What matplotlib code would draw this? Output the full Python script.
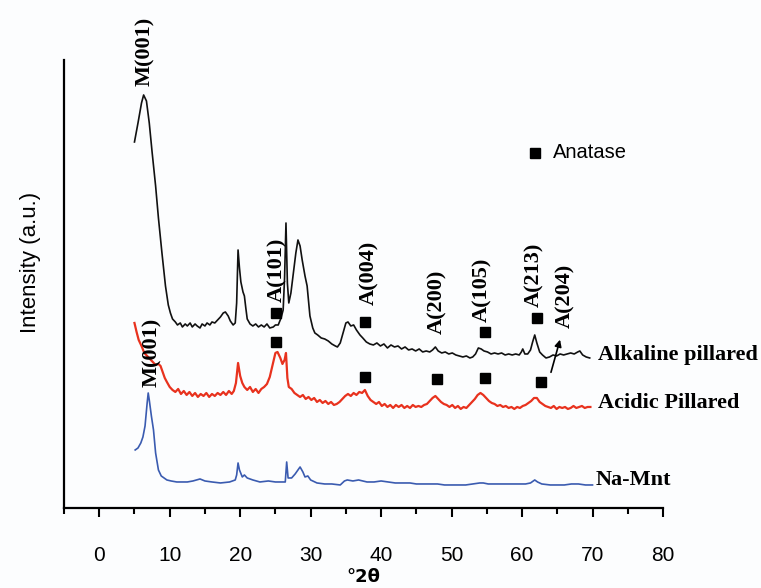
import matplotlib
matplotlib.use("Agg")
import matplotlib.pyplot as plt
from matplotlib.ticker import MultipleLocator

# ── XRD data (2θ in degrees, intensity in arbitrary units) ──
alk_2t = [5.0, 5.5, 6.0, 6.3, 6.7, 7.1, 7.5, 8.0, 8.4, 8.9,
          9.4, 9.8, 10.1, 10.4, 10.8, 11.1, 11.5, 11.8, 12.2, 12.5,
          12.9, 13.2, 13.6, 13.9, 14.3, 14.6, 15.0, 15.3, 15.7, 16.0,
          16.4, 16.8, 17.2, 17.6, 17.9, 18.3, 18.6, 19.0, 19.3, 19.5,
          19.7, 19.9, 20.1, 20.4, 20.6, 20.8, 21.0, 21.4, 21.8, 22.2,
          22.6, 23.0, 23.4, 23.8, 24.2, 24.7, 25.0, 25.4, 25.8, 26.1,
          26.3, 26.5, 26.7, 26.9, 27.2, 27.5, 27.9, 28.2, 28.5, 28.8,
          29.2, 29.5, 29.9, 30.3, 30.6, 31.0, 31.5, 32.0, 32.5, 33.0,
          33.5, 33.8, 34.2, 34.6, 35.0, 35.3, 35.7, 36.1, 36.5, 37.0,
          37.4, 37.9, 38.4, 38.9, 39.4, 39.9, 40.4, 40.9, 41.4, 41.9,
          42.4, 42.9, 43.4, 43.9, 44.4, 44.9, 45.4, 45.9, 46.4, 46.9,
          47.3, 47.7, 48.1, 48.6, 49.1, 49.6, 50.1, 50.6, 51.1, 51.6,
          52.1, 52.6, 53.0, 53.4, 53.8, 54.2, 54.6, 55.1, 55.6, 56.1,
          56.6, 57.1, 57.6, 58.1, 58.6, 59.1, 59.6, 59.9, 60.1, 60.4,
          60.8, 61.2, 61.5, 61.8, 62.1, 62.5, 62.9, 63.4, 63.9, 64.4,
          64.9, 65.4, 65.9, 66.4, 66.9, 67.4, 67.9, 68.2, 68.6, 69.1,
          69.6]
alk_int = [366, 385, 405, 413, 407, 385, 356, 322, 290, 255,
           222, 203, 195, 189, 186, 183, 185, 181, 184, 182,
           185, 181, 184, 182, 180, 184, 182, 185, 183, 186,
           185, 188, 191, 195, 196, 192, 187, 183, 185, 205,
           258, 240, 226, 216, 212, 200, 189, 184, 182, 184,
           181, 183, 181, 184, 180, 181, 183, 183, 190, 198,
           230, 285, 225, 205, 215, 232, 255, 268, 262, 248,
           232, 222, 192, 180, 175, 173, 170, 169, 167, 164,
           162, 161, 165, 175, 185, 186, 182, 183, 178, 173,
           170, 166, 164, 163, 165, 162, 164, 160, 163, 161,
           162, 159, 161, 158, 159, 157, 159, 156, 157, 156,
           158, 161, 157, 155, 156, 154, 155, 153, 152, 151,
           152, 150, 151, 154, 160, 159, 157, 156, 154, 155,
           154, 155, 153, 154, 153, 154, 153, 156, 159, 154,
           154, 158, 166, 173, 165, 156, 153, 150, 151, 153,
           152, 154, 153, 154, 155, 154, 156, 157, 153, 151,
           150]

acid_2t = [5.0, 5.3, 5.6, 6.0, 6.4, 6.8, 7.2, 7.6, 8.0, 8.4,
           8.7, 9.0, 9.3, 9.6, 10.0, 10.4, 10.8, 11.2, 11.6, 12.0,
           12.4, 12.8, 13.2, 13.6, 14.0, 14.4, 14.8, 15.2, 15.6, 16.0,
           16.4, 16.8, 17.2, 17.6, 18.0, 18.4, 18.8, 19.1, 19.4, 19.7,
           20.0, 20.3, 20.6, 21.0, 21.4, 21.8, 22.2, 22.6, 23.0, 23.4,
           23.8, 24.2, 24.6, 25.0, 25.3, 25.7, 26.0, 26.3, 26.5, 26.7,
           26.9, 27.3, 27.7, 28.1, 28.5, 28.9, 29.3, 29.7, 30.1, 30.5,
           30.9, 31.3, 31.7, 32.1, 32.5, 32.9, 33.3, 33.7, 34.1, 34.5,
           34.9, 35.3, 35.7, 36.1, 36.5, 36.9, 37.3, 37.7, 38.1, 38.5,
           38.9, 39.3, 39.7, 40.1, 40.5, 40.9, 41.3, 41.7, 42.1, 42.5,
           42.9, 43.3, 43.7, 44.1, 44.5, 44.9, 45.3, 45.7, 46.1, 46.5,
           46.9, 47.3, 47.7, 48.1, 48.5, 48.9, 49.3, 49.7, 50.1, 50.5,
           50.9, 51.3, 51.7, 52.1, 52.5, 52.9, 53.3, 53.7, 54.1, 54.5,
           54.9, 55.3, 55.7, 56.1, 56.5, 56.9, 57.3, 57.7, 58.1, 58.5,
           58.9, 59.3, 59.7, 60.1, 60.5, 60.9, 61.3, 61.7, 62.1, 62.5,
           62.9, 63.3, 63.7, 64.1, 64.5, 64.9, 65.3, 65.7, 66.1, 66.5,
           66.9, 67.3, 67.7, 68.1, 68.5, 68.9, 69.3, 69.7]
acid_int = [185, 176, 168, 162, 155, 152, 149, 146, 143, 144,
            142, 136, 130, 126, 121, 118, 116, 119, 114, 117,
            113, 116, 112, 115, 111, 114, 112, 115, 111, 114,
            112, 115, 113, 116, 113, 117, 114, 117, 125, 145,
            132, 125, 121, 118, 121, 116, 119, 115, 119, 121,
            124, 131, 143, 155, 156, 150, 144, 148, 155, 130,
            121, 119, 115, 113, 111, 113, 109, 111, 108, 110,
            106, 108, 105, 107, 104, 106, 103, 104, 106, 109,
            112, 114, 112, 115, 113, 116, 115, 118, 112, 108,
            106, 104, 106, 102, 104, 101, 103, 100, 103, 101,
            103, 100, 102, 100, 103, 101, 102, 101, 103, 104,
            107, 110, 112, 109, 106, 104, 103, 101, 103, 100,
            102, 99, 101, 100, 103, 106, 109, 113, 115, 113,
            110, 107, 105, 104, 102, 103, 101, 102, 100, 101,
            99, 101, 100, 102, 103, 105, 107, 110, 110, 106,
            104, 102, 101, 100, 102, 99, 101, 100, 101, 99,
            100, 102, 100, 101, 102, 100, 101, 101]

namnt_2t = [5.1, 5.5, 5.9, 6.2, 6.5, 6.8, 6.95, 7.1, 7.4, 7.7,
            8.0, 8.4, 8.8, 9.2, 9.6, 10.2, 11.0, 12.0, 12.5, 13.3,
            14.3, 15.0, 16.0, 17.2, 18.5, 19.3, 19.5, 19.7, 19.9, 20.3,
            20.6, 21.0, 21.8, 22.8, 24.0, 25.0, 26.4, 26.6, 26.8, 27.3,
            27.8, 28.5, 28.9, 29.2, 29.6, 30.0, 30.9, 32.0, 33.0, 34.2,
            34.8, 35.2, 36.0, 36.8, 38.0, 39.0, 40.0, 41.0, 42.0, 43.0,
            44.1, 45.0, 46.0, 47.0, 48.0, 49.0, 50.0, 51.2, 52.0, 53.0,
            54.0, 54.5, 55.2, 56.0, 57.0, 58.0, 59.0, 59.7, 60.5, 61.2,
            61.8, 62.2, 62.8, 64.0, 65.0, 66.0, 67.0, 68.0, 69.0, 70.0]
namnt_int = [58, 60, 65, 71, 82, 105, 115, 108, 92, 78,
             55, 38, 32, 30, 28, 27, 26, 26, 26, 27,
             29, 27, 26, 25, 26, 28, 33, 45, 38, 31,
             33, 30, 28, 26, 27, 26, 26, 46, 30, 30,
             34, 41, 36, 31, 32, 28, 25, 24, 24, 23,
             27, 28, 27, 28, 26, 26, 27, 26, 25, 25,
             25, 24, 24, 24, 24, 23, 23, 23, 23, 24,
             25, 25, 24, 24, 24, 24, 24, 24, 24, 25,
             28, 26, 24, 23, 23, 23, 24, 24, 23, 23]

# anatase markers (2θ, intensity) above each pillared pattern
alk_sq_2t = [25.1, 37.7, 54.8, 62.1]
alk_sq_int = [195, 186, 176, 190]
acid_sq_2t = [25.1, 37.7, 47.9, 54.8, 62.7]
acid_sq_int = [166, 131, 129, 130, 126]

# reflection labels: text, 2θ, intensity position
peak_labels = ["M(001)", "M(001)", "A(101)", "A(004)", "A(200)", "A(105)", "A(213)", "A(204)"]
peak_lbl_2t = [6.5, 7.5, 25.2, 38.3, 47.9, 54.3, 61.8, 66.2]
peak_lbl_int = [457, 156, 238, 235, 206, 218, 233, 212]

sample_names = ["Alkaline pillared", "Acidic Pillared", "Na-Mnt"]
sample_lbl_2t = [70.8, 70.8, 70.4]
sample_lbl_int = [153, 105, 28]

COR_ALK = "#111111"
COR_ACID = "#e8321e"
COR_NA = "#3a5bb0"
SERIF = "Liberation Serif"
SANS = "Liberation Sans"

fig = plt.figure(figsize=(7.61, 5.88), dpi=100, facecolor="#fcfdfe")
ax = fig.add_axes([0.0841, 0.1361, 0.7871, 0.7619])
ax.set_facecolor("#fcfdfe")

ax.plot(alk_2t, alk_int, color=COR_ALK, lw=1.2)
ax.plot(acid_2t, acid_int, color=COR_ACID, lw=1.6)
ax.plot(namnt_2t, namnt_int, color=COR_NA, lw=1.2)

ax.plot(alk_sq_2t, alk_sq_int, ls="none", marker="s", ms=6.5, color="black")
ax.plot(acid_sq_2t, acid_sq_int, ls="none", marker="s", ms=6.5, color="black")

for txt, x, y in zip(peak_labels, peak_lbl_2t, peak_lbl_int):
    ax.text(x, y, txt, rotation=90, ha="center", va="center", fontsize=16,
            fontweight="bold", family=SERIF, clip_on=False)

for txt, x, y in zip(sample_names, sample_lbl_2t, sample_lbl_int):
    ax.text(x, y, txt, ha="left", va="center", fontsize=16,
            fontweight="bold", family=SERIF)

# arrow pointing A(204) label to the acidic peak marker
ax.annotate("", xy=(65.5, 171), xytext=(64.0, 133),
            arrowprops=dict(arrowstyle="-|>", color="black", lw=1.2,
                            mutation_scale=10))

# "Anatase" key
ax.plot([61.8], [355], ls="none", marker="s", ms=6.5, color="black")
ax.text(64.4, 355, "Anatase", ha="left", va="center", fontsize=14.5, family=SANS)

ax.set_xlim(-5, 80)
ax.set_ylim(0, 448)
ax.xaxis.set_major_locator(MultipleLocator(10))
ax.xaxis.set_minor_locator(MultipleLocator(5))
ax.tick_params(axis="x", which="major", direction="out", length=6.5, width=1.5,
               pad=21, labelsize=15)
ax.tick_params(axis="x", which="minor", direction="out", length=4, width=1.5)
for lab in ax.get_xticklabels():
    lab.set_family(SANS)
ax.set_yticks([])

for s in ("top", "right"):
    ax.spines[s].set_visible(False)
for s in ("left", "bottom"):
    ax.spines[s].set_linewidth(1.6)

ax.set_xlabel("°2θ", fontsize=13, fontweight="bold", family="DejaVu Sans", labelpad=2)
ax.set_ylabel("Intensity (a.u.)", fontsize=16, family=SANS)
ax.yaxis.set_label_coords(-0.039, 0.549)

fig.savefig("out.png", dpi=100, facecolor=fig.get_facecolor())
